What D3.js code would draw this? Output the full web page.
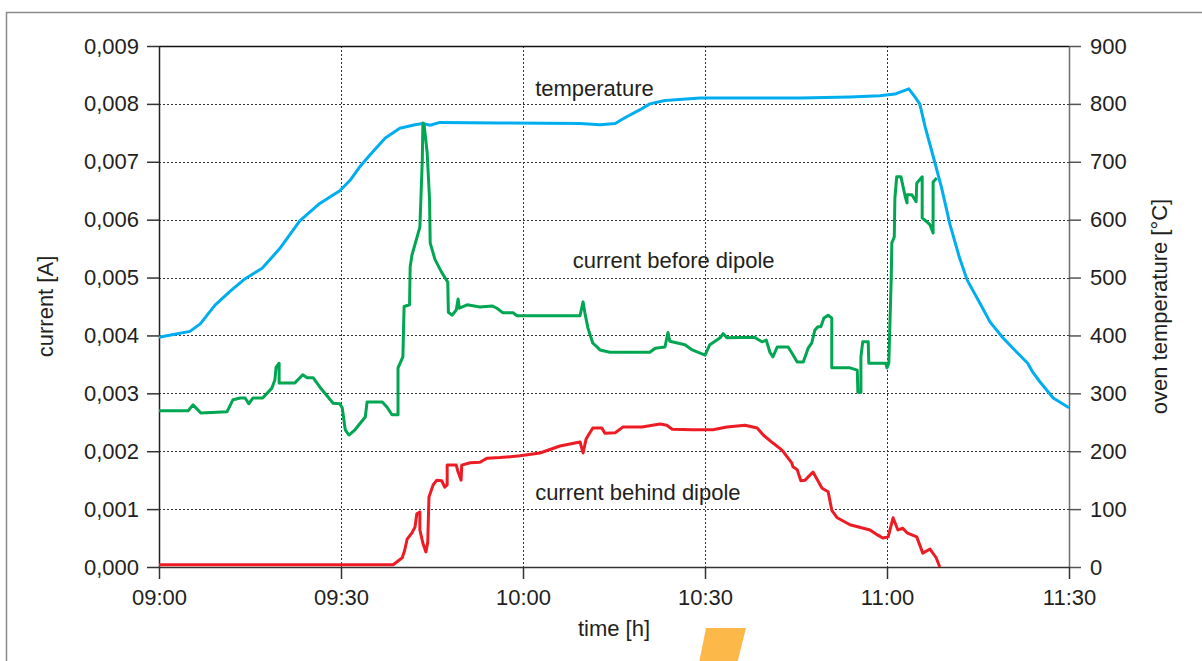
<!DOCTYPE html>
<html>
<head>
<meta charset="utf-8">
<script src="https://cdn.jsdelivr.net/npm/d3@7"></script>
<style>
  html, body { margin: 0; padding: 0; background: #fff; }
  svg { display: block; }
  text { font-family: "Liberation Sans", Arial, Helvetica, sans-serif; fill: #231f20; }
</style>
</head>
<body>
<svg id="chart" width="1202" height="661"></svg>
<script>
// ---- data (time in minutes after 09:00) ----
const timeTicks = [0, 30, 60, 90, 120, 150];
const timeTickLabels = ["09:00", "09:30", "10:00", "10:30", "11:00", "11:30"];
const currentTicks = [0, 0.001, 0.002, 0.003, 0.004, 0.005, 0.006, 0.007, 0.008, 0.009];
const tempTicks = [0, 100, 200, 300, 400, 500, 600, 700, 800, 900];

const temperature = [
  [0,397],[2.6,402],[5.1,407],[6.8,420],[9.2,452],[11.7,476],[14.2,498],[17,516],[19.9,550],
  [23.2,598],[26.5,628],[29.8,650],[31.5,668],[33,690],[34.8,712],[37.3,741],[39.7,758],
  [42.2,764],[43.5,766],[44.7,763],[46.3,768],[56.2,767],[69.4,766],[72.7,764],[75.2,766],
  [76.8,776],[79.3,790],[80.9,800],[83.4,806],[89.2,810],[105.7,810],[113.9,812],[118.8,814],
  [121.3,817],[122.6,822],[123.6,826],[124.6,812],[125.4,800],[126.3,760],[127.6,710],
  [129.0,655],[130.4,591],[131.9,536],[133.2,496],[135.3,456],[137.0,423],[139.1,396],
  [141.4,371],[143.2,352],[144.0,337],[145.2,320],[147.4,292],[150,275]
];

const currentBefore = [
  [0,0.0027],[4.8,0.0027],[5.6,0.0028],[6.9,0.00266],[11.2,0.00268],[12.2,0.00289],[13.4,0.00292],
  [14.2,0.00292],[14.8,0.00282],[15.5,0.00292],[17.1,0.00292],[18.6,0.00309],[19.1,0.00323],
  [19.3,0.00345],[19.8,0.00352],[19.8,0.00318],[22.4,0.00318],[23.7,0.00332],[24.4,0.00327],
  [25.4,0.00327],[26.5,0.00311],[28.7,0.00283],[29.8,0.00282],[30.2,0.00275],[30.7,0.00237],
  [31.3,0.00228],[32.3,0.00237],[34.0,0.00259],[34.3,0.00285],[36.8,0.00285],[37.6,0.00276],
  [38.4,0.00263],[39.4,0.00263],[39.4,0.00344],[40.2,0.00363],[40.4,0.0045],[41.3,0.00453],
  [41.4,0.00518],[41.7,0.00539],[43.0,0.00587],[43.4,0.00703],[43.5,0.00767],[43.7,0.00764],
  [44.2,0.00716],[44.6,0.00634],[44.7,0.0056],[45.5,0.00531],[46.6,0.00509],[47.6,0.00492],
  [47.7,0.0044],[48.3,0.00435],[49.0,0.00444],[49.3,0.00463],[49.5,0.00447],[50.8,0.00453],
  [52.9,0.00449],[54.9,0.00451],[55.7,0.00447],[56.7,0.00439],[58.4,0.00439],[59.0,0.00434],
  [69.4,0.00434],[69.9,0.00458],[70.2,0.00439],[70.7,0.00413],[71.5,0.00387],[72.7,0.00375],
  [74.3,0.00371],[80.9,0.00371],[81.8,0.00378],[83.4,0.0038],[83.9,0.00405],[84.2,0.0039],
  [86.7,0.00384],[87.9,0.00375],[90.0,0.00366],[90.8,0.00384],[92.5,0.00396],[93.0,0.00403],
  [93.6,0.00396],[98.2,0.00397],[98.6,0.00394],[99.4,0.00389],[100.1,0.00392],[100.7,0.00371],
  [101.2,0.00363],[101.9,0.0038],[103.7,0.0038],[104.3,0.0037],[105.2,0.00354],[106.2,0.00354],
  [107.0,0.00378],[107.6,0.00387],[108.1,0.00409],[108.6,0.00415],[109.1,0.00415],[109.6,0.0043],
  [110.3,0.00435],[110.9,0.0043],[110.9,0.00344],[113.9,0.00344],[115.1,0.0034],[115.2,0.00302],
  [115.7,0.00302],[115.7,0.00363],[116.0,0.00389],[116.9,0.00389],[117.0,0.00352],[119.8,0.00352],
  [120.0,0.00344],[120.3,0.00352],[120.7,0.0050],[120.8,0.0056],[121.2,0.0057],[121.3,0.00637],
  [121.6,0.00674],[122.3,0.00674],[123.0,0.0064],[123.3,0.00629],[123.3,0.00643],[124.1,0.00643],
  [124.8,0.00631],[124.9,0.00663],[125.8,0.00674],[125.8,0.00603],[126.6,0.00596],[127.1,0.00591],
  [127.6,0.00577],[127.6,0.00665],[128.2,0.00672]
];

const currentBehind = [
  [0,0.00004],[38.6,0.00004],[40.1,0.00016],[40.5,0.00029],[40.9,0.00048],[41.7,0.00059],
  [42.2,0.00069],[42.5,0.00092],[43.0,0.00095],[43.0,0.00064],[43.5,0.00041],[44.0,0.00026],
  [44.3,0.00043],[44.5,0.00121],[45.2,0.00142],[45.8,0.0015],[46.6,0.00149],[47.1,0.00138],
  [47.5,0.00142],[47.5,0.00176],[49.0,0.00176],[49.3,0.00164],[49.8,0.0015],[49.9,0.00176],
  [51.3,0.0018],[52.9,0.00181],[54.1,0.00188],[56.2,0.00189],[59.5,0.00192],[62.8,0.00197],
  [66.1,0.00209],[69.4,0.00216],[69.9,0.00197],[70.4,0.00221],[71.5,0.0024],[73.0,0.0024],
  [73.5,0.00231],[75.2,0.00232],[76.5,0.00242],[79.6,0.00242],[82.6,0.00247],[83.7,0.00245],
  [84.6,0.00238],[88.0,0.00237],[91.3,0.00237],[93.6,0.00242],[96.6,0.00245],[98.6,0.0024],
  [99.6,0.00228],[101.1,0.00215],[102.7,0.00202],[104.3,0.0018],[104.5,0.00173],[105.2,0.00168],
  [105.8,0.00149],[106.5,0.0015],[107.8,0.00164],[109.3,0.00136],[110.3,0.0013],[110.9,0.00098],
  [111.8,0.00085],[113.9,0.00073],[117.2,0.00064],[118.5,0.00055],[119.3,0.0005],[120.2,0.00052],
  [121.0,0.00085],[121.8,0.00064],[122.6,0.00067],[123.3,0.00059],[124.9,0.00052],[125.9,0.00024],
  [127.1,0.00031],[128.1,0.00016],[128.7,0]
];

const seriesLabels = ["temperature", "current before dipole", "current behind dipole"];

(function () {
// ---- layout ----
const svg = d3.select("#chart");
const pL = 159, pR = 1069, pT = 46, pB = 567;
const FS = 22;

const x = d3.scaleLinear().domain([0, 150]).range([pL, pR]);
const yI = d3.scaleLinear().domain([0, 0.009]).range([pB, pT]);
const yT = d3.scaleLinear().domain([0, 900]).range([pB, pT]);

// outer frame
svg.append("rect").attr("x", 6.5).attr("y", 12.5).attr("width", 1200).attr("height", 700)
  .attr("fill", "none").attr("stroke", "#8a8a8a").attr("stroke-width", 1.5);

// gridlines
const grid = svg.append("g");
grid.selectAll("line.h").data(currentTicks.filter(d => d > 0 && d < 0.009)).join("line")
  .attr("x1", pL).attr("x2", pR)
  .attr("y1", d => Math.round(yI(d)) + 0.5).attr("y2", d => Math.round(yI(d)) + 0.5)
  .attr("stroke", "#333").attr("stroke-width", 1).attr("stroke-dasharray", "2,2");
grid.selectAll("line.v").data(timeTicks.filter(d => d > 0 && d < 150)).join("line")
  .attr("y1", pT).attr("y2", pB)
  .attr("x1", d => Math.round(x(d)) + 0.5).attr("x2", d => Math.round(x(d)) + 0.5)
  .attr("stroke", "#333").attr("stroke-width", 1).attr("stroke-dasharray", "2,2");

// top border
svg.append("line").attr("x1", pL).attr("x2", pR).attr("y1", pT + 0.5).attr("y2", pT + 0.5)
  .attr("stroke", "#111").attr("stroke-width", 1.3);

// axes
const fmtI = d => d3.format(".3f")(d).replace(".", ",");
const axL = svg.append("g").attr("transform", `translate(${pL},0)`)
  .call(d3.axisLeft(yI).tickValues(currentTicks).tickFormat(fmtI).tickSize(12).tickSizeOuter(0).tickPadding(8));
const axR = svg.append("g").attr("transform", `translate(${pR},0)`)
  .call(d3.axisRight(yT).tickValues(tempTicks).tickFormat(d3.format("d")).tickSize(12).tickSizeOuter(0).tickPadding(9));
const axB = svg.append("g").attr("transform", `translate(0,${pB})`)
  .call(d3.axisBottom(x).tickValues(timeTicks).tickFormat((d, i) => timeTickLabels[i]).tickSize(12).tickSizeOuter(0).tickPadding(10));

[axL, axR, axB].forEach(g => {
  g.selectAll("text").attr("font-size", FS).attr("font-family", "Liberation Sans, Arial, sans-serif").attr("fill", "#231f20");
});
axL.select(".domain").attr("stroke", "#222").attr("stroke-width", 1.5);
axL.selectAll(".tick line").attr("stroke", "#333").attr("stroke-width", 1.5);
axR.select(".domain").attr("stroke", "#6d6e70").attr("stroke-width", 1.5);
axR.selectAll(".tick line").attr("stroke", "#555").attr("stroke-width", 1.5);
axB.select(".domain").attr("stroke", "#333").attr("stroke-width", 1.5);
axB.selectAll(".tick line").attr("stroke", "#333").attr("stroke-width", 1.5);

// series
const lineI = d3.line().x(d => x(d[0])).y(d => yI(d[1]));
const lineT = d3.line().x(d => x(d[0])).y(d => yT(d[1]));

svg.append("path").datum(temperature).attr("d", lineT)
  .attr("fill", "none").attr("stroke", "#00aeef").attr("stroke-width", 3).attr("stroke-linejoin", "round");
svg.append("path").datum(currentBefore).attr("d", lineI)
  .attr("fill", "none").attr("stroke", "#00a651").attr("stroke-width", 3).attr("stroke-linejoin", "round");
svg.append("path").datum(currentBehind).attr("d", lineI)
  .attr("fill", "none").attr("stroke", "#ed1c24").attr("stroke-width", 3).attr("stroke-linejoin", "round");

// series labels
const lab = svg.append("g").attr("font-size", FS);
lab.append("text").attr("x", x(62.0)).attr("y", yT(814)).text(seriesLabels[0]);
lab.append("text").attr("x", x(68.2)).attr("y", yI(0.00517)).text(seriesLabels[1]);
lab.append("text").attr("x", x(62.0)).attr("y", yI(0.00116)).text(seriesLabels[2]);

// axis titles
svg.append("text").attr("font-size", FS).attr("text-anchor", "middle")
  .attr("transform", `translate(53,${(pT + pB) / 2}) rotate(-90)`).text("current [A]");
svg.append("text").attr("font-size", FS).attr("text-anchor", "middle")
  .attr("transform", `translate(1167,${(pT + pB) / 2}) rotate(-90)`).text("oven temperature [°C]");
svg.append("text").attr("font-size", FS).attr("text-anchor", "middle")
  .attr("x", 614).attr("y", 636).text("time [h]");

// decorative orange shape at the bottom
svg.append("path").attr("d", "M706,628 L746,628 L736,668 L698,668 Z").attr("fill", "#fdb84a");
})();
</script>
</body>
</html>
